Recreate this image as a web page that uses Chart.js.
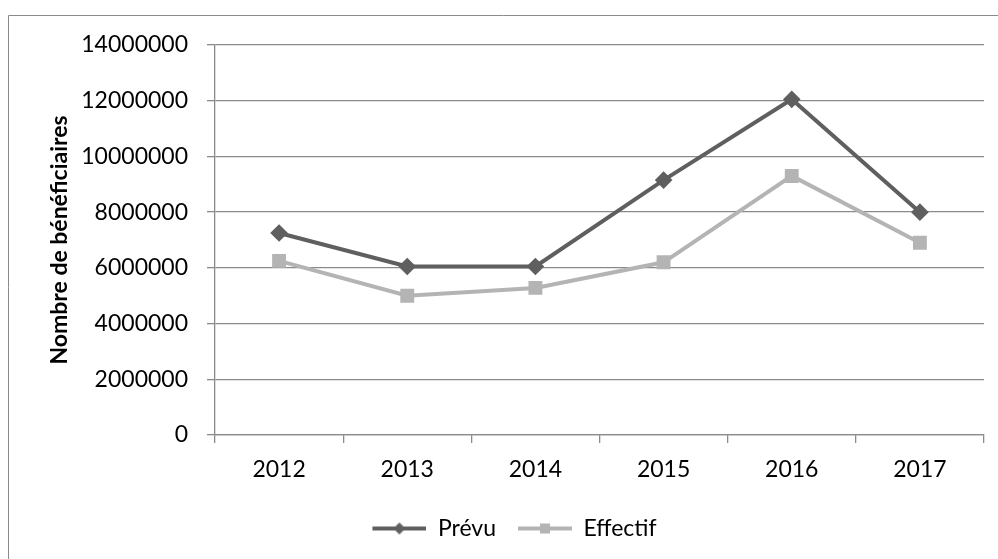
<!DOCTYPE html>
<html lang="fr">
<head>
<meta charset="UTF-8">
<title>Nombre de bénéficiaires</title>
<script src="https://cdn.jsdelivr.net/npm/chart.js"></script>
<style>
  html, body { margin: 0; padding: 0; background: #fff; }
  #cadre { position: relative; width: 998px; height: 559px; }
</style>
</head>
<body>
<div id="cadre"><canvas id="graphique"></canvas></div>
<script>
// données
const annees = ['2012', '2013', '2014', '2015', '2016', '2017'];
const prevu = [7250000, 6050000, 6050000, 9150000, 12050000, 8000000];
const effectif = [6250000, 5000000, 5280000, 6200000, 9300000, 6900000];
const yMax = 14000000;
const yPas = 2000000;

const grisFonce = '#5f5f5f';
const grisClair = '#b4b4b4';
const grisAxe = '#8a8a8a';
const police = 'Lato, "Open Sans", sans-serif';

// petit échantillon trait + marqueur pour la légende
function echantillon(couleur, forme) {
    const c = document.createElement('canvas');
    c.width = 66;
    c.height = 14;
    const ctx = c.getContext('2d');
    ctx.strokeStyle = couleur;
    ctx.fillStyle = couleur;
    ctx.lineWidth = 4;
    ctx.beginPath();
    ctx.moveTo(12, 7);
    ctx.lineTo(66, 7);
    ctx.stroke();
    const cx = 39;
    ctx.beginPath();
    if (forme === 'losange') {
        ctx.moveTo(cx, 1);
        ctx.lineTo(cx + 6, 7);
        ctx.lineTo(cx, 13);
        ctx.lineTo(cx - 6, 7);
        ctx.closePath();
    } else {
        ctx.rect(cx - 5, 2, 10, 10);
    }
    ctx.fill();
    return c;
}
const symboles = [echantillon(grisFonce, 'losange'), echantillon(grisClair, 'carre')];

const bordure = {
    id: 'bordure',
    beforeDraw(chart) {
        const ctx = chart.ctx;
        ctx.save();
        ctx.strokeStyle = grisAxe;
        ctx.lineWidth = 1;
        ctx.beginPath();
        ctx.moveTo(8.5, chart.height);
        ctx.lineTo(8.5, 15.5);
        ctx.lineTo(chart.width, 15.5);
        ctx.stroke();
        ctx.restore();
    }
};

new Chart(document.getElementById('graphique'), {
    type: 'line',
    data: {
        labels: annees,
        datasets: [{
            label: 'Prévu',
            data: prevu,
            borderColor: grisFonce,
            backgroundColor: grisFonce,
            borderWidth: 4,
            pointStyle: 'rectRot',
            pointRadius: 6,
            pointHoverRadius: 6,
            tension: 0
        }, {
            label: 'Effectif',
            data: effectif,
            borderColor: grisClair,
            backgroundColor: grisClair,
            borderWidth: 4,
            pointStyle: 'rect',
            pointRadius: 7,
            pointHoverRadius: 7,
            tension: 0
        }]
    },
    options: {
        responsive: true,
        maintainAspectRatio: false,
        animation: false,
        layout: { padding: { top: 45, right: 14, left: 33, bottom: 9 } },
        plugins: {
            tooltip: { enabled: false },
            legend: {
                position: 'bottom',
                labels: {
                    usePointStyle: true,
                    pointStyleWidth: 66,
                    color: '#000',
                    padding: 10,
                    font: { family: police, size: 23 },
                    generateLabels(chart) {
                        return chart.data.datasets.map((ds, i) => ({
                            text: ds.label,
                            pointStyle: symboles[i],
                            fillStyle: ds.borderColor,
                            strokeStyle: ds.borderColor,
                            lineWidth: 0,
                            hidden: false,
                            datasetIndex: i
                        }));
                    }
                }
            }
        },
        scales: {
            x: {
                offset: true,
                grid: { offset: true, drawOnChartArea: false, tickLength: 8, color: grisAxe, lineWidth: 1.3 },
                border: { color: grisAxe, width: 1.3 },
                ticks: { color: '#000', padding: 13, maxRotation: 0, font: { family: police, size: 23 } },
                afterFit(scale) { scale.height = 72; }
            },
            y: {
                min: 0,
                max: yMax,
                grid: { tickLength: 8, color: grisAxe, lineWidth: 1.3 },
                border: { color: grisAxe, width: 1.3 },
                ticks: {
                    stepSize: yPas,
                    color: '#000',
                    padding: 19,
                    font: { family: police, size: 23 },
                    callback: v => String(v)
                },
                title: {
                    display: true,
                    text: 'Nombre de bénéficiaires',
                    color: '#000',
                    padding: { top: 13, bottom: 0 },
                    font: { family: police, size: 23, weight: 'bold' }
                },
                afterFit(scale) { scale.width = 182; }
            }
        }
    },
    plugins: [bordure]
});
</script>
</body>
</html>
